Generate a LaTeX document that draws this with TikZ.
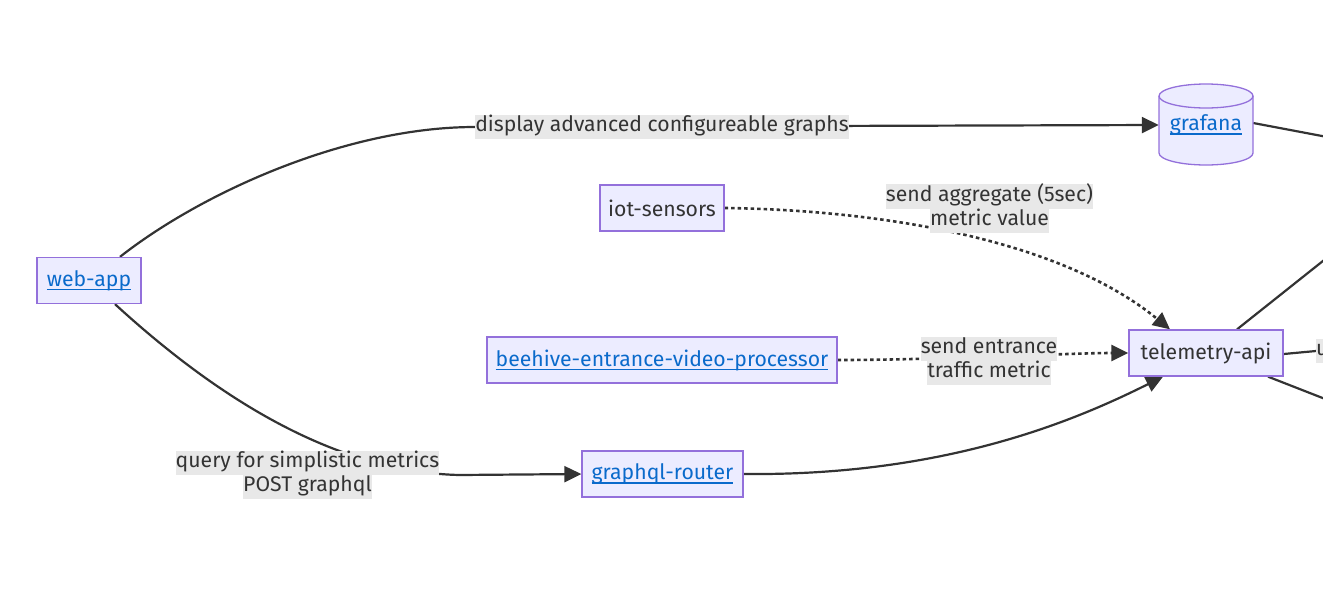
\documentclass[tikz,border=0pt]{standalone}
\usepackage{fontspec}
\setmainfont{Fira Sans}
\usetikzlibrary{arrows.meta}
\definecolor{nodefill}{HTML}{ECECFF}
\definecolor{nodeline}{HTML}{9370DB}
\definecolor{txt}{HTML}{333333}
\definecolor{lnk}{HTML}{0A6ACB}
\definecolor{lblbg}{HTML}{E8E8E8}
\newsavebox\lnkbox
\newcommand\lnktext[1]{\sbox\lnkbox{\color{lnk}#1}{\color{lnk}\rlap{\usebox\lnkbox}\rule[-4pt]{\wd\lnkbox}{1.2pt}}}
\newcommand\lbline[1]{{\setlength\fboxsep{0pt}\colorbox{lblbg}{\strut #1}}}
\pgfdeclarelayer{edges}
\pgfsetlayers{edges,main}
\tikzset{
  txtfont/.style={font=\fontsize{21.2}{24}\selectfont},
  box/.style={draw=nodeline, fill=nodefill, line width=1.3pt, minimum height=46pt, inner sep=0pt, text=txt, txtfont},
  lbl/.style={inner sep=0pt, text=txt, txtfont, align=center},
  conn/.style={draw=txt, line width=2.2pt},
  edge/.style={conn, -{Triangle[length=17pt,width=16pt]}},
  dotedge/.style={edge, line width=2.6pt, dash pattern=on 3.5pt off 3pt}
}
\begin{document}
\begin{tikzpicture}[x=1pt,y=-1pt]
\useasboundingbox (0,0) rectangle (1323,611);
% grafana cylinder
\path[fill=nodefill, draw=nodeline, line width=1.3pt]
  (1159,96) -- (1159,153) arc[start angle=180,end angle=360,x radius=47pt,y radius=12pt]
  -- (1253,96) arc[start angle=0,end angle=180,x radius=47pt,y radius=12pt] -- cycle;
\draw[nodeline, line width=1.3pt] (1159,96) arc[start angle=180,end angle=360,x radius=47pt,y radius=12pt];
\node[minimum width=94pt, minimum height=82pt, inner sep=0pt, txtfont] (grafana) at (1206,125) {\raisebox{-7pt}{\lnktext{grafana}}};
% nodes
\node[box, minimum width=104pt] (webapp) at (89,280.5) {\lnktext{web-app}};
\node[box, minimum width=124pt] (iot) at (662,208) {iot-sensors};
\node[box, minimum width=350pt] (beehive) at (662,360) {\lnktext{beehive-entrance-video-processor}};
\node[box, minimum width=161pt] (graphql) at (662.5,474) {\lnktext{graphql-router}};
\node[box, minimum width=154pt] (telemetry) at (1206,353) {telemetry-api};
% labels
\node[lbl] (l1) at (662,127) {\lbline{display advanced configureable graphs}};
\node[lbl] (l2) at (307.5,475) {\lbline{query for simplistic metrics}\\\lbline{POST graphql}};
\node[lbl] (l3) at (989.5,208.5) {\lbline{send aggregate (5sec)}\\\lbline{metric value}};
\node[lbl] (l4) at (989,361) {\lbline{send entrance}\\\lbline{traffic metric}};
\node[lbl, anchor=west] (u) at (1316,351) {\lbline{u}};
% exit coordinates
\coordinate (ex1) at (1340,139.4);
\coordinate (ex2) at (1340,247.4);
\coordinate (ex3) at (1340,404.8);
\begin{pgfonlayer}{edges}
\draw[edge] ([xshift=31pt]webapp.north) .. controls +(80,-63) and +(-130,0) .. (l1.west) -- (grafana.west);
\draw[edge] ([xshift=26pt]webapp.south) .. controls +(95,87) and +(-130,-3) .. ([xshift=20pt]l2.east) -- (graphql.west);
\draw[dotedge] (iot.east) .. controls +(156,2) and +(-110,-90) .. ([xshift=-36pt]telemetry.north);
\draw[dotedge] (beehive.east) .. controls +(100,0) and +(-60,0) .. (telemetry.west);
\draw[edge] (graphql.east) .. controls +(200,2) and +(-90,45) .. ([xshift=-43pt]telemetry.south);
\draw[conn] ([yshift=2pt]grafana.east) -- (ex1);
\draw[conn] ([xshift=31pt]telemetry.north) -- (ex2);
\draw[conn] ([yshift=-1pt]telemetry.east) -- (u.west);
\draw[conn] ([xshift=62pt]telemetry.south) -- (ex3);
\end{pgfonlayer}
\end{tikzpicture}
\end{document}
